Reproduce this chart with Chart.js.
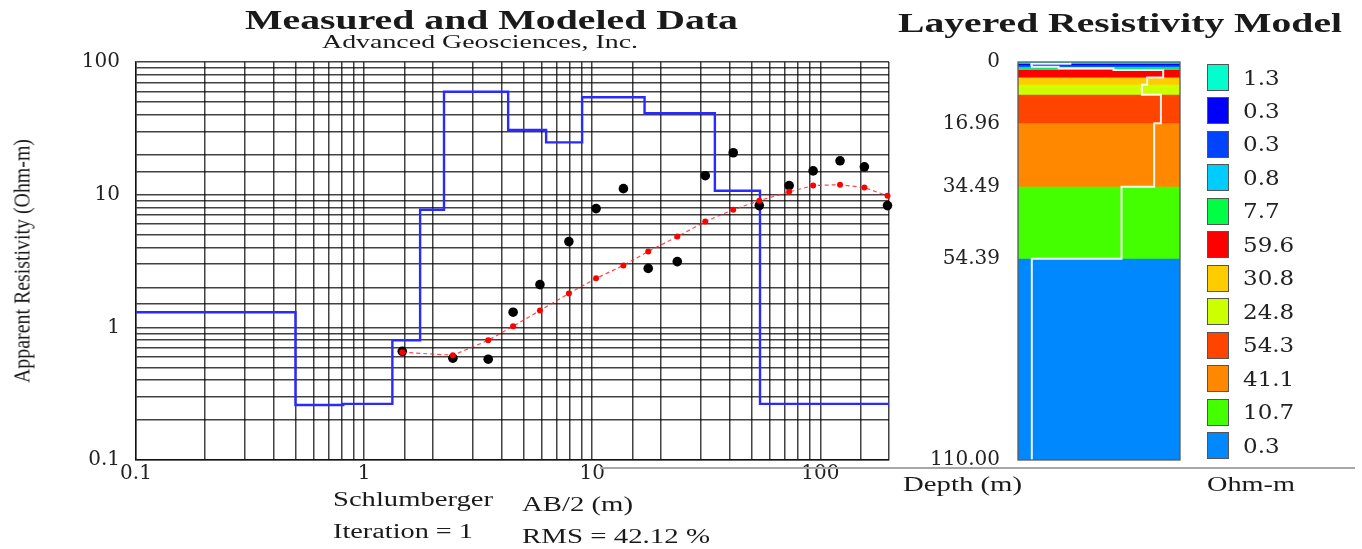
<!DOCTYPE html>
<html>
<head>
<meta charset="utf-8">
<script src="https://cdn.jsdelivr.net/npm/chart.js"></script>
<style>
html,body{margin:0;padding:0;background:#fff;width:1362px;height:549px;overflow:hidden;}
#wrap{position:relative;width:1362px;height:549px;}
.t{position:absolute;white-space:nowrap;font-family:'Liberation Serif','Times New Roman',serif;color:#1a1a1a;line-height:1;transform-origin:0 0;}
.n{position:absolute;white-space:nowrap;font-family:'DejaVu Serif',serif;color:#222;line-height:1;transform-origin:0 0;}
.box{position:absolute;box-sizing:border-box;border:1.5px solid #555;}
</style>
</head>
<body>
<div id="wrap">
  <div style="position:absolute;left:0;top:0;width:900px;height:549px"><canvas id="c1" width="900" height="549"></canvas></div>
  <div style="position:absolute;left:890px;top:0;width:472px;height:549px"><canvas id="c2" width="472" height="549"></canvas></div>
</div>
<script>
// ---------------- data ----------------
// Schlumberger AB/2 spacings (m)
const AB2 = [1.47, 2.45, 3.5, 4.5, 5.9, 7.9, 10.4, 13.7, 17.6, 23.6, 31.3, 41.5, 54, 73, 93, 122, 156, 197];
// measured apparent resistivity (Ohm-m)
const MEASURED = [0.66, 0.585, 0.575, 1.30, 2.1, 4.43, 7.85, 11.1, 2.78, 3.13, 13.9, 20.7, 8.27, 11.7, 15.1, 18.0, 16.2, 8.27];
// calculated (modeled) apparent resistivity (Ohm-m)
const CALCULATED = [0.649, 0.616, 0.798, 1.02, 1.34, 1.80, 2.34, 2.93, 3.73, 4.83, 6.27, 7.71, 9.01, 10.5, 11.7, 11.9, 11.3, 9.82];
// layered model: top depth of each layer (m) and its resistivity (Ohm-m)
const LAYER_TOP = [0, 0.5, 0.81, 1.33, 1.76, 2.24, 4.28, 6.28, 9.03, 16.96, 34.49, 54.39];
const LAYER_RHO = [1.3, 0.26, 0.265, 0.8, 7.7, 59.6, 30.8, 24.8, 54.3, 41.1, 10.7, 0.265];
const LAYER_LABELS = ['1.3', '0.3', '0.3', '0.8', '7.7', '59.6', '30.8', '24.8', '54.3', '41.1', '10.7', '0.3'];
const LAYER_COLORS = ['#00ffcc', '#0000ff', '#0044ff', '#00ccff', '#00ff44', '#ff0000', '#ffcc00', '#ccff00', '#ff4400', '#ff8800', '#44ff00', '#0088ff'];
// axis ranges / tick labels
const AB2_RANGE = [0.1, 200];
const RHO_RANGE = [0.1, 100];
const DEPTH_TICKS = [0, 16.96, 34.49, 54.39, 110];
const MODEL_RHO_RANGE = [0.15, 119.2];

// ---------------- left chart ----------------
const gridCol = 'rgba(0,0,0,0.74)';
const tickFont = {family: "'DejaVu Serif', serif", size: 20};
function decadeLabel(v) {
  const l = Math.log10(v);
  return Math.abs(l - Math.round(l)) < 1e-9 ? String(+Number(v).toPrecision(3)) : '';
}
const modelPts = LAYER_TOP.map((d, i) => ({x: i === 0 ? AB2_RANGE[0] : d, y: LAYER_RHO[i]}));
modelPts.push({x: AB2_RANGE[1], y: LAYER_RHO[LAYER_RHO.length - 1]});

new Chart(document.getElementById('c1'), {
  type: 'line',
  data: {
    datasets: [
      {label: 'Calculated', data: AB2.map((x, i) => ({x, y: CALCULATED[i]})),
       borderColor: 'rgba(255,40,40,0.85)', borderWidth: 1.2, borderDash: [4, 3],
       pointRadius: 3, pointBackgroundColor: '#ff0000', pointBorderWidth: 0,
       fill: false, tension: 0, order: 0, clip: 8},
      {label: 'Measured', data: AB2.map((x, i) => ({x, y: MEASURED[i]})),
       showLine: false, pointRadius: 4.8, pointBackgroundColor: '#000', pointBorderWidth: 0,
       order: 1, clip: 8},
      {label: 'Model', data: modelPts, borderColor: '#2a2aff', borderWidth: 2.4,
       pointRadius: 0, stepped: 'before', fill: false, order: 2, clip: 3}
    ]
  },
  options: {
    responsive: false, animation: false,
    layout: {padding: {left: 0, right: 11, top: 62, bottom: 59}},
    plugins: {legend: {display: false}, tooltip: {enabled: false}},
    scales: {
      x: {type: 'logarithmic', min: AB2_RANGE[0], max: AB2_RANGE[1],
          afterFit(s) { s.height = 30; },
          grid: {color: gridCol, lineWidth: 1.5, drawTicks: false},
          border: {display: true, color: gridCol, width: 1.5},
          ticks: {autoSkip: false, maxRotation: 0, minRotation: 0, padding: 2, font: tickFont, color: '#222', callback: decadeLabel}},
      y: {type: 'logarithmic', min: RHO_RANGE[0], max: RHO_RANGE[1],
          afterFit(s) { s.width = 136; },
          grid: {color: gridCol, lineWidth: 1.5, drawTicks: false},
          border: {display: true, color: gridCol, width: 1.5},
          ticks: {autoSkip: false, padding: 16, font: tickFont, color: '#222', callback: decadeLabel}}
    }
  }
});

// ---------------- right chart ----------------
const DEPTH_MAX = DEPTH_TICKS[DEPTH_TICKS.length - 1];
const bandSets = LAYER_TOP.map((d, i) => ({
  label: 'layer ' + (i + 1),
  data: [{x: MODEL_RHO_RANGE[0], y: d}, {x: MODEL_RHO_RANGE[1], y: d}],
  borderWidth: 0, borderColor: LAYER_COLORS[i], backgroundColor: LAYER_COLORS[i],
  pointRadius: 0, fill: {value: DEPTH_MAX}, order: 100 - i
}));
const profile = LAYER_RHO.map((r, i) => ({x: r, y: LAYER_TOP[i]}));
profile.push({x: LAYER_RHO[LAYER_RHO.length - 1], y: DEPTH_MAX});

const framePlugin = {
  id: 'frame',
  afterDatasetsDraw(chart) {
    const a = chart.chartArea, ctx = chart.ctx;
    ctx.save();
    ctx.strokeStyle = '#5a5a5a'; ctx.lineWidth = 1.3;
    ctx.strokeRect(a.left, a.top, a.right - a.left, a.bottom - a.top);
    ctx.restore();
  }
};

new Chart(document.getElementById('c2'), {
  type: 'line',
  data: {
    datasets: [
      {label: 'profile', data: profile, borderColor: 'rgba(255,255,255,0.92)', borderWidth: 2,
       pointRadius: 0, stepped: 'after', fill: false, order: 0}
    ].concat(bandSets)
  },
  options: {
    responsive: false, animation: false,
    layout: {padding: {left: 0, right: 182, top: 62, bottom: 89}},
    plugins: {legend: {display: false}, tooltip: {enabled: false}},
    scales: {
      x: {type: 'logarithmic', min: MODEL_RHO_RANGE[0], max: MODEL_RHO_RANGE[1], display: false},
      y: {type: 'linear', reverse: true, min: 0, max: DEPTH_MAX,
          afterFit(s) { s.width = 128; },
          afterBuildTicks(s) { s.ticks = DEPTH_TICKS.map(v => ({value: v})); },
          grid: {display: false}, border: {display: false},
          ticks: {autoSkip: false, padding: 10, font: tickFont, color: '#222',
                  callback: v => v === 0 ? '0' : Number(v).toFixed(2)}}
    }
  },
  plugins: [framePlugin]
});

// ---------------- text ----------------
const wrap = document.getElementById('wrap');
function addText(txt, o) {
  const d = document.createElement('div');
  d.className = o.num ? 'n' : 't';
  d.textContent = txt;
  d.style.fontSize = o.size + 'px';
  if (o.bold) d.style.fontWeight = 'bold';
  wrap.appendChild(d);
  const w = d.getBoundingClientRect().width;
  const s = o.width ? o.width / w : (o.scale || 1);
  if (o.rotate) {
    d.style.left = o.cx + 'px'; d.style.top = o.cy + 'px';
    d.style.transform = 'rotate(-90deg) scaleX(' + s + ') translate(-50%,-50%)';
  } else {
    const k = o.num ? 0.846 : 0.8375;
    d.style.left = o.left + 'px';
    d.style.top = (o.base - k * o.size) + 'px';
    d.style.transform = 'scaleX(' + s + ')';
  }
  return d;
}
addText('Measured and Modeled Data', {left: 245, base: 29, size: 28, bold: true, width: 493});
addText('Advanced Geosciences, Inc.', {left: 322, base: 48, size: 19, width: 316});
addText('Layered Resistivity Model', {left: 898, base: 33, size: 27, bold: true, width: 444});
addText('Apparent Resistivity (Ohm-m)', {rotate: true, cx: 22, cy: 261, size: 23, width: 244});
addText('Schlumberger', {left: 333, base: 506, size: 20, width: 160});
addText('AB/2 (m)', {left: 522, base: 511, size: 20, width: 111});
addText('Iteration = 1', {left: 333, base: 538, size: 20, width: 140});
addText('RMS = 42.12 %', {left: 522, base: 543, size: 20, width: 188});
addText('Depth (m)', {left: 903, base: 491, size: 20, width: 119});
addText('Ohm-m', {left: 1207, base: 491, size: 20, width: 88});

// gray rule under the model column
const rule = document.createElement('div');
rule.style.cssText = 'position:absolute;left:600px;top:467px;width:755px;height:2px;background:#a8a8a8;';
wrap.appendChild(rule);

// legend of layer resistivities
LAYER_LABELS.forEach((lab, i) => {
  const top = 64 + i * 33.45;
  const b = document.createElement('div');
  b.className = 'box';
  b.style.cssText += 'left:1207px;top:' + top + 'px;width:22px;height:27px;background:' + LAYER_COLORS[i] + ';';
  wrap.appendChild(b);
  addText(lab, {num: true, left: 1243, base: top + 13.5 + 7, size: 20, scale: 1.15});
});
</script>
</body>
</html>
